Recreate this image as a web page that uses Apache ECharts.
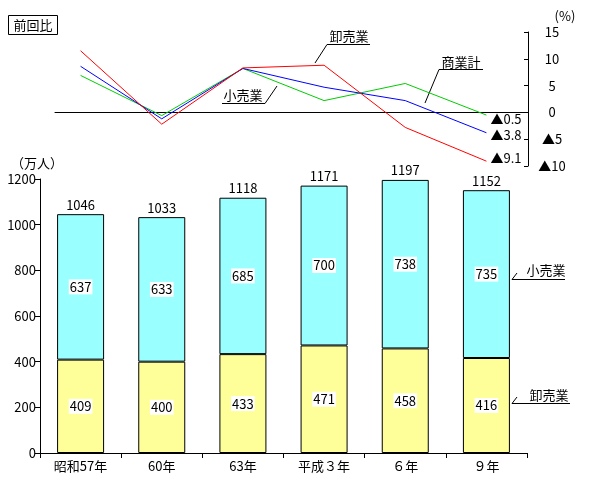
<!DOCTYPE html>
<html><head><meta charset="utf-8">
<script src="https://cdn.jsdelivr.net/npm/echarts@6/dist/echarts.min.js"></script>
<style>html,body{margin:0;padding:0;background:#fff}#c{width:600px;height:480px}</style>
</head><body><div id="c"></div>
<script>
const categories = ['昭和57年', '60年', '63年', '平成３年', '６年', '９年'];
const wholesale = [409, 400, 433, 471, 458, 416];
const retail = [637, 633, 685, 700, 738, 735];
const totals = [1046, 1033, 1118, 1171, 1197, 1152];
const rateWholesale = [11.5, -2.2, 8.3, 8.8, -2.8, -9.1];
const rateRetail = [6.9, -0.6, 8.2, 2.2, 5.4, -0.5];
const rateTotal = [8.6, -1.2, 8.2, 4.7, 2.2, -3.8];
const rateTicks = [-10, -5, 0, 5, 10, 15];

const FONT = '"Noto Sans CJK JP", sans-serif';
const fmtRate = v => v < 0 ? '▲' + Math.abs(v) : String(v);

function lineSeries(name, data, color, offY) {
  return {
    type: 'line', name, xAxisIndex: 0, yAxisIndex: 0,
    data: data.map((v, i) => [i, v]),
    symbol: 'none', lineStyle: { color, width: 1 }, silent: true,
    label: { show: false },
    endLabel: { show: true, formatter: p => fmtRate(p.value[1]), color: '#000', fontSize: 13,
      fontFamily: FONT, distance: 4, offset: [0, offY] }
  };
}

const chart = echarts.init(document.getElementById('c'));
chart.setOption({
  animation: false,
  textStyle: { fontFamily: FONT },
  grid: [
    { left: 55, right: 72, top: 32, height: 134 },
    { left: 40, right: 73, top: 179, bottom: 27 }
  ],
  xAxis: [
    { type: 'value', gridIndex: 0, min: -0.315, max: 5.512,
      axisLine: { show: true, onZero: true, lineStyle: { color: '#000', width: 1 } },
      axisTick: { show: false }, axisLabel: { show: false }, splitLine: { show: false } },
    { type: 'category', gridIndex: 1, data: categories,
      axisLine: { lineStyle: { color: '#000' } },
      axisTick: { show: true, length: 5, interval: 0, lineStyle: { color: '#000' } },
      axisLabel: { color: '#000', fontSize: 13, margin: 7, fontFamily: FONT } }
  ],
  yAxis: [
    { type: 'value', gridIndex: 0, position: 'right', min: -10, max: 15, interval: 5,
      axisLine: { show: true, onZero: false, lineStyle: { color: '#000' } },
      axisTick: { show: true, inside: true, length: 4, lineStyle: { color: '#000' } },
      axisLabel: { color: '#000', fontSize: 13, formatter: fmtRate, align: 'center', margin: 24, fontFamily: FONT },
      splitLine: { show: false } },
    { type: 'value', gridIndex: 1, min: 0, max: 1200, interval: 200,
      axisLine: { show: true, onZero: false, lineStyle: { color: '#000' } },
      axisTick: { show: true, length: 5, lineStyle: { color: '#000' } },
      axisLabel: { color: '#000', fontSize: 13, margin: 4, fontFamily: FONT, formatter: v => String(v) },
      splitLine: { show: false } }
  ],
  series: [
    lineSeries('小売業', rateRetail, '#00cc00', 4),
    lineSeries('商業計', rateTotal, '#0000ff', 2),
    lineSeries('卸売業', rateWholesale, '#ff0000', -3),
    { type: 'bar', name: '卸売業', xAxisIndex: 1, yAxisIndex: 1, stack: 's', data: wholesale, barWidth: 47,
      itemStyle: { color: '#ffff99', borderColor: '#000', borderWidth: 1 },
      label: { show: true, position: 'inside', color: '#000', fontSize: 13, backgroundColor: '#fff', padding: [1, 1], fontFamily: FONT } },
    { type: 'bar', name: '小売業', xAxisIndex: 1, yAxisIndex: 1, stack: 's', data: retail, barWidth: 47,
      itemStyle: { color: '#99ffff', borderColor: '#000', borderWidth: 1 },
      label: { show: true, position: 'inside', color: '#000', fontSize: 13, backgroundColor: '#fff', padding: [1, 1], fontFamily: FONT } },
    { type: 'bar', name: '合計', xAxisIndex: 1, yAxisIndex: 1, stack: 's', data: totals.map(() => 0), barWidth: 47,
      itemStyle: { color: 'transparent', borderWidth: 0 },
      label: { show: true, position: 'top', distance: 3, color: '#000', fontSize: 13, fontFamily: FONT,
        formatter: p => String(totals[p.dataIndex]) } }
  ],
  graphic: [
    { type: 'rect', shape: { x: 8.5, y: 15.5, width: 49, height: 19 }, style: { fill: '#fff', stroke: '#000', lineWidth: 1 } },
    { type: 'text', x: 33, y: 25, style: { text: '前回比', fontSize: 13, fontFamily: FONT, fill: '#000', align: 'center', verticalAlign: 'middle' } },
    { type: 'text', x: 565, y: 16, style: { text: '(%)', fontSize: 13, fontFamily: FONT, fill: '#000', align: 'center', verticalAlign: 'middle' } },
    { type: 'text', x: 37, y: 163, style: { text: '（万人）', fontSize: 13, fontFamily: FONT, fill: '#000', align: 'center', verticalAlign: 'middle' } },
    { type: 'text', x: 349, y: 36, style: { text: '卸売業', fontSize: 13, fontFamily: FONT, fill: '#000', align: 'center', verticalAlign: 'middle' } },
    { type: 'polyline', shape: { points: [[370, 44.5], [327, 44.5], [315, 63]] }, style: { stroke: '#000', lineWidth: 1, fill: null } },
    { type: 'text', x: 461, y: 62, style: { text: '商業計', fontSize: 13, fontFamily: FONT, fill: '#000', align: 'center', verticalAlign: 'middle' } },
    { type: 'polyline', shape: { points: [[483, 69.5], [439, 69.5], [425, 103]] }, style: { stroke: '#000', lineWidth: 1, fill: null } },
    { type: 'text', x: 243, y: 95, style: { text: '小売業', fontSize: 13, fontFamily: FONT, fill: '#000', align: 'center', verticalAlign: 'middle' } },
    { type: 'polyline', shape: { points: [[222, 103.5], [265, 103.5], [277, 86]] }, style: { stroke: '#000', lineWidth: 1, fill: null } },
    { type: 'text', x: 546, y: 270, style: { text: '小売業', fontSize: 13, fontFamily: FONT, fill: '#000', align: 'center', verticalAlign: 'middle' } },
    { type: 'polyline', shape: { points: [[517, 273], [512, 279.5], [565, 279.5]] }, style: { stroke: '#000', lineWidth: 1, fill: null } },
    { type: 'text', x: 549, y: 395, style: { text: '卸売業', fontSize: 13, fontFamily: FONT, fill: '#000', align: 'center', verticalAlign: 'middle' } },
    { type: 'polyline', shape: { points: [[517, 397], [512, 403.5], [570, 403.5]] }, style: { stroke: '#000', lineWidth: 1, fill: null } }
  ]
});
</script></body></html>
